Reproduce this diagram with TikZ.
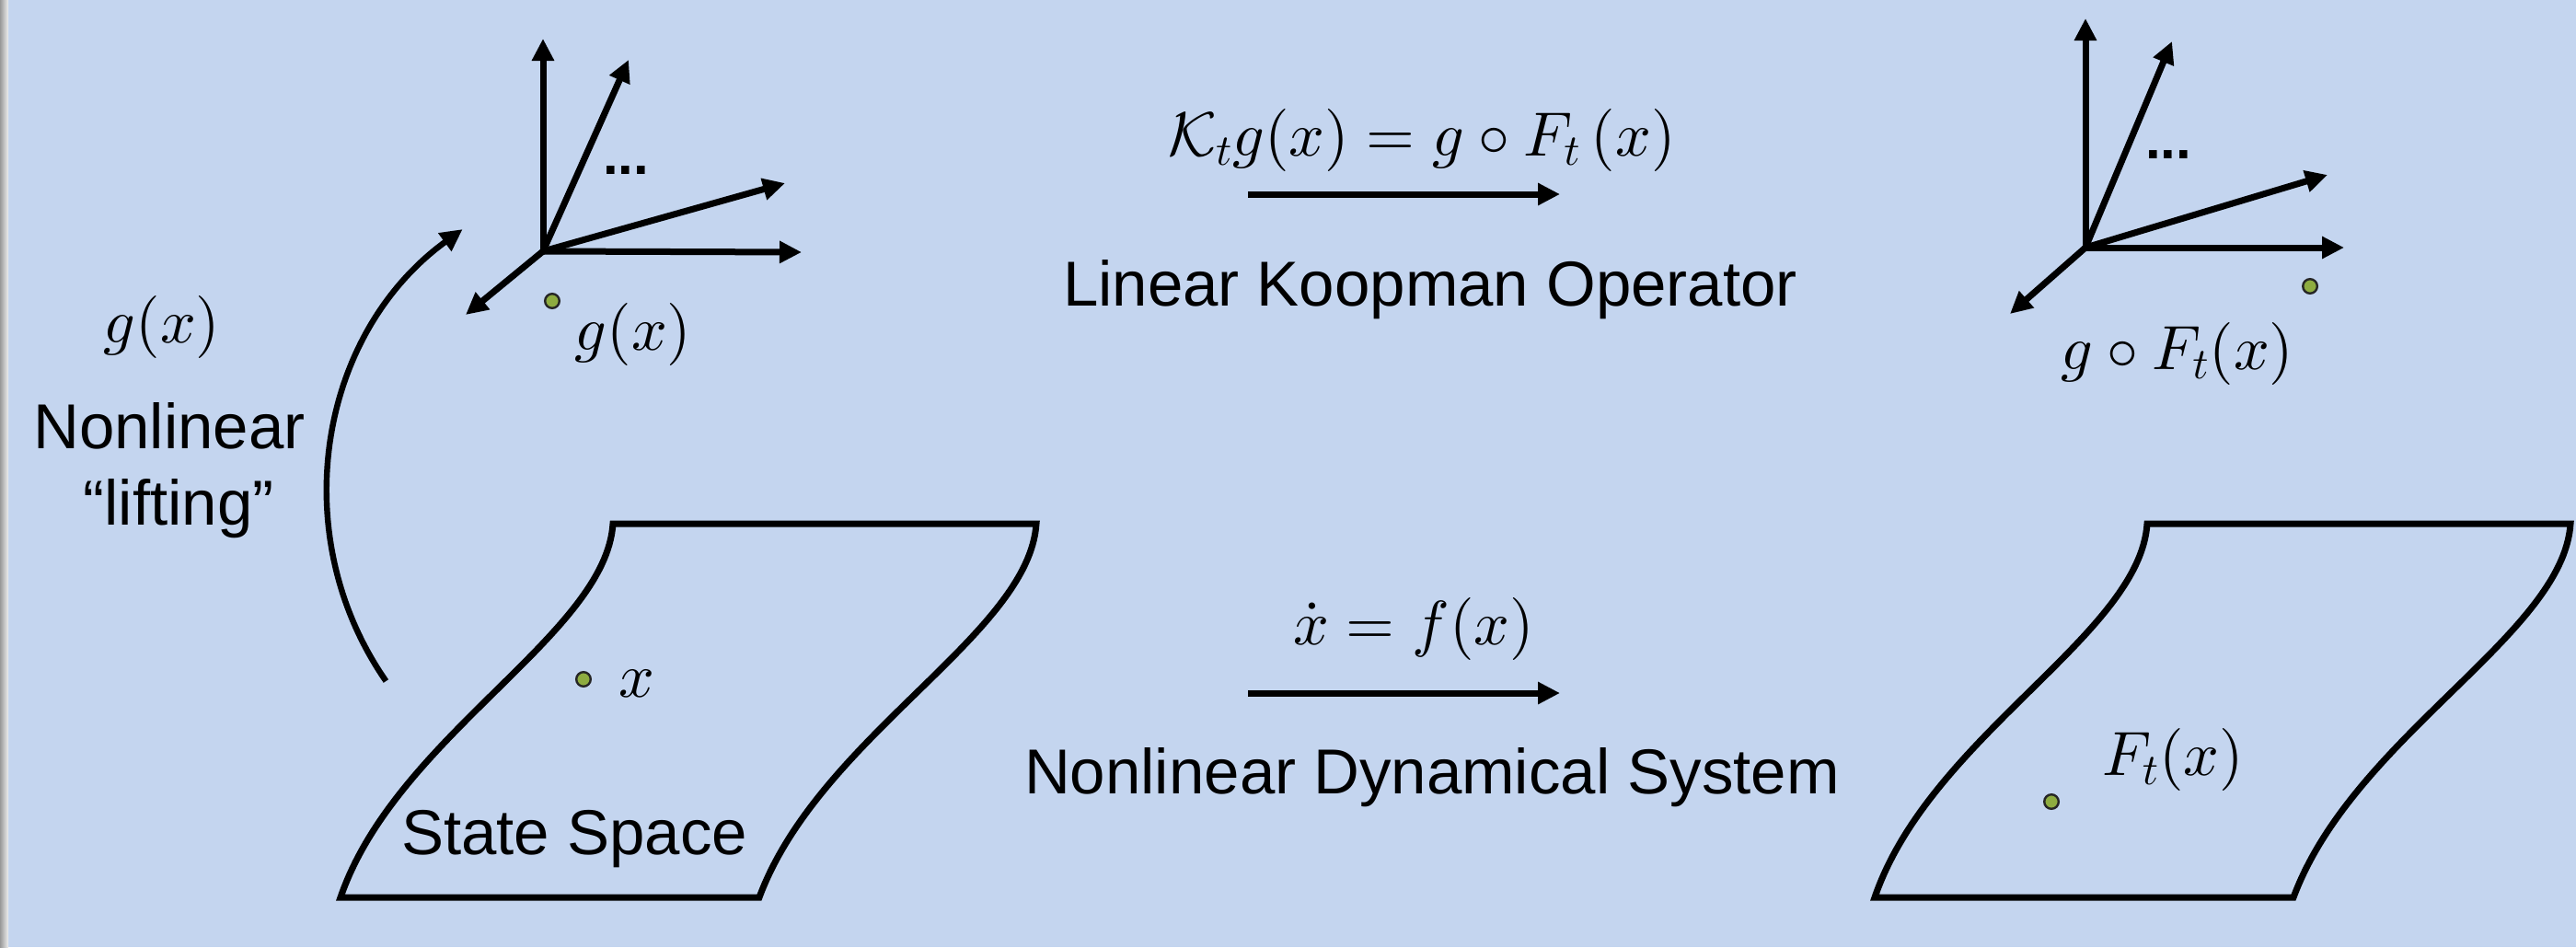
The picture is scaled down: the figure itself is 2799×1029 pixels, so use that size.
\documentclass[tikz,border=0pt]{standalone}
\usepackage[no-math]{fontspec}
\setmainfont{Liberation Sans}
\DeclareFontShape{OML}{cmm}{m}{it}{<->cmmi10}{}
\DeclareFontShape{OT1}{cmr}{m}{n}{<->cmr10}{}
\DeclareFontShape{OMS}{cmsy}{m}{n}{<->cmsy10}{}
\usetikzlibrary{arrows.meta}
\definecolor{bgblue}{RGB}{196,213,239}
\definecolor{dotgreen}{RGB}{142,172,64}
\begin{document}
\begin{tikzpicture}[x=0.5pt,y=-0.5pt,
  arr/.style={line width=3.5pt,line cap=round,-{Triangle[length=12pt,width=11.5pt]}},
  plane/.style={line width=3.5pt,line join=miter},
  lbl/.style={font=\fontsize{34.5}{41.5}\selectfont,inner sep=0pt},
  mth/.style={font=\fontsize{34}{40}\selectfont,inner sep=0pt},
  dotstxt/.style={font=\fontsize{30}{36}\selectfont\bfseries,inner sep=0pt},
  pt/.style={circle,fill=dotgreen,draw=black!85,line width=1.2pt,minimum size=7.8pt,inner sep=0pt}]
\fill[bgblue] (0,0) rectangle (2799,1029);
\useasboundingbox (0,0) rectangle (2799,1029);
\shade[left color=black!40,right color=black!6] (0,0) rectangle (9,1029);

% left text
\node[lbl,anchor=base] (lift1) at (184,487) {Nonlinear};
\node[lbl,anchor=base] (lift2) at (194,570) {“lifting”};
\node[mth] (glab) at (176,355) {$g(x)$};

% middle texts
\node[mth] (kform) at (1545,152) {$\mathcal{K}_t g(x) = g\circ F_t\,(x)$};
\node[lbl,anchor=base] (koop) at (1554,332) {Linear Koopman Operator};
\node[mth] (fform) at (1536,683) {$\dot{x} = f(x)$};
\node[lbl,anchor=base] (nds) at (1556,862) {Nonlinear Dynamical System};

% middle arrows
\coordinate (k1) at (1356,211);
\coordinate (k2) at (1695,211);
\coordinate (n1) at (1356,753);
\coordinate (n2) at (1695,753);
\draw[arr,line cap=butt] (k1) -- (k2);
\draw[arr,line cap=butt] (n1) -- (n2);

% left axes
\coordinate (o1) at (590,273);
\coordinate (a1) at (590,42);
\coordinate (b1) at (683,65);
\coordinate (c1) at (853,199);
\coordinate (d1) at (871,274);
\coordinate (e1) at (506,342);
\foreach \t in {a1,b1,c1,d1,e1} \draw[arr] (o1) -- (\t);
\node[dotstxt,anchor=base] (dl) at (680,189) {...};
\node[pt] (p2) at (600,327) {};
\node[mth] (gax) at (688,363) {$g(x)$};

% right axes
\coordinate (o2) at (2266,269);
\coordinate (a2) at (2266,20);
\coordinate (b2) at (2360,45);
\coordinate (c2) at (2529,190);
\coordinate (d2) at (2547,269);
\coordinate (e2) at (2184,341);
\foreach \t in {a2,b2,c2,d2,e2} \draw[arr] (o2) -- (\t);
\node[dotstxt,anchor=base] (dr) at (2356,172) {...};
\node[pt] (p3) at (2510,311) {};
\node[mth] (gF) at (2366,384) {$g\circ F_t(x)$};

% lifting arrow
\coordinate (ls) at (419.4,740);
\draw[arr,line cap=butt,line width=3.2pt] (ls) arc[start angle=145.25,end angle=234,radius=356];

% state space (left)
\draw[plane] (900,569) -- (1126,569) .. controls (1118,690) and (890,800) .. (825,975)
  -- (370,975) .. controls (430,800) and (658,690) .. (666,569) -- cycle;
\node[lbl,anchor=base] (ss) at (624,928) {State Space};
\node[pt] (p1) at (634,738) {};
\node[mth,anchor=base west] (xl) at (672,757) {$x$};

% right plane
\begin{scope}[shift={(1667,0)}]
\draw[plane] (900,569) -- (1126,569) .. controls (1118,690) and (890,800) .. (825,975)
  -- (370,975) .. controls (430,800) and (658,690) .. (666,569) -- cycle;
\end{scope}
\node[pt] (p4) at (2229,871) {};
\node[mth] (Fx) at (2361,825) {$F_t(x)$};
\end{tikzpicture}
\end{document}
